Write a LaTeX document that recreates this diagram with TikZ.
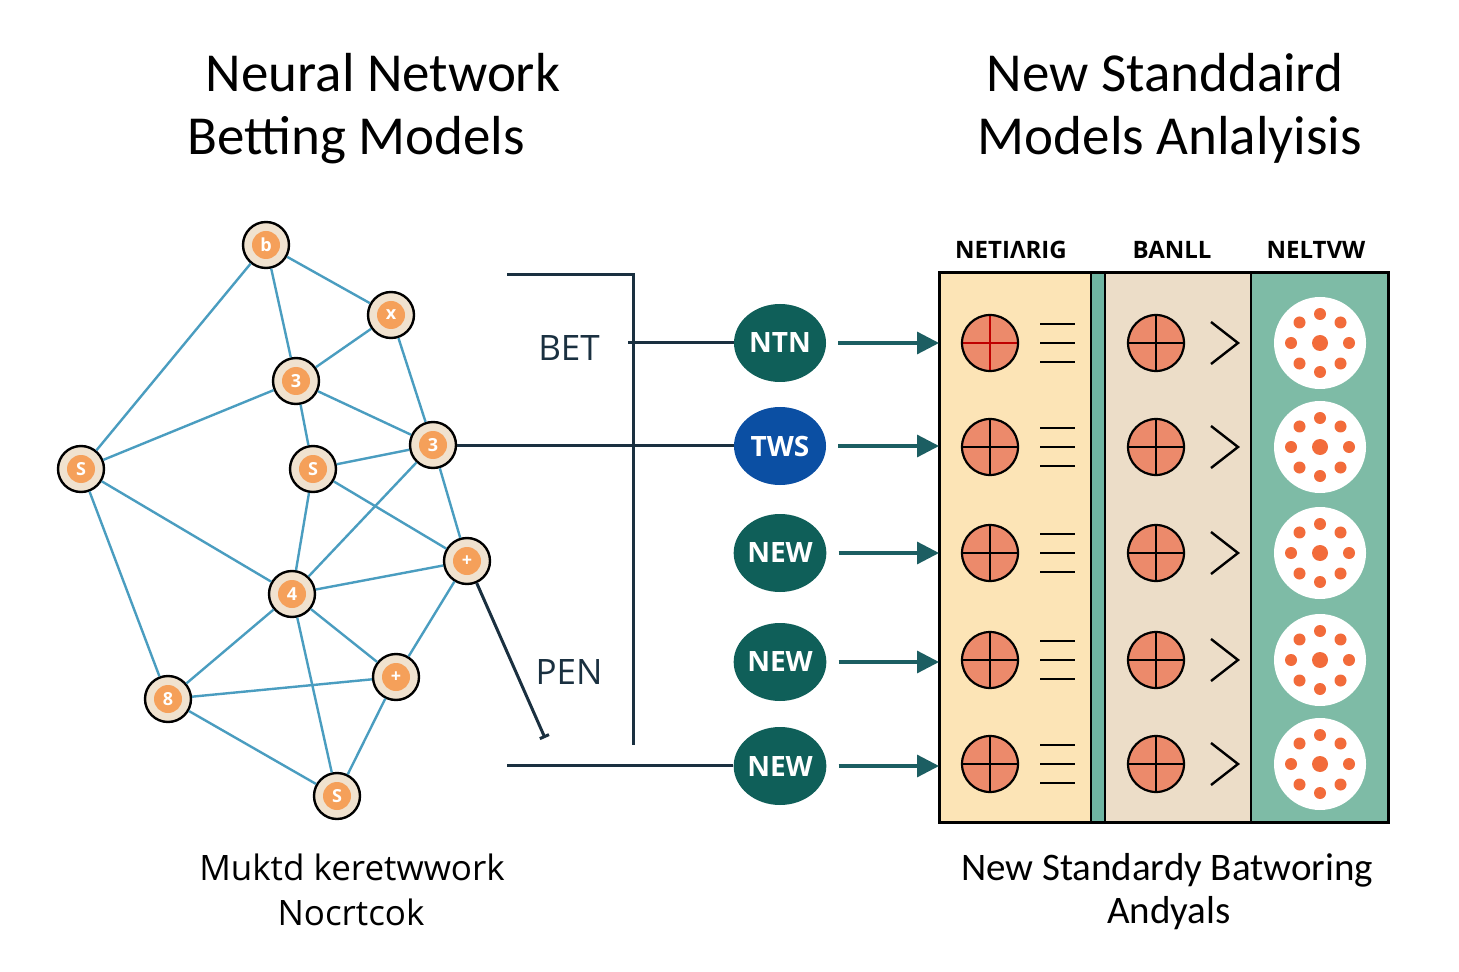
\documentclass[tikz,border=0pt]{standalone}
\usepackage{fontspec}
\setmainfont{Carlito}
\newfontfamily\osans{Open Sans}
\usetikzlibrary{shapes.geometric,arrows.meta}

\definecolor{nbeige}{HTML}{F0E2CF}
\definecolor{norange}{HTML}{F5A05A}
\definecolor{nedge}{HTML}{4A9DC0}
\definecolor{wirec}{HTML}{1A3040}
\definecolor{tealn}{HTML}{0F5F59}
\definecolor{bluen}{HTML}{0B4FA3}
\definecolor{flowc}{HTML}{1C5E62}
\definecolor{colA}{HTML}{FCE4B6}
\definecolor{colS}{HTML}{6FB5A2}
\definecolor{colB}{HTML}{ECDDC8}
\definecolor{colC}{HTML}{7EBBA6}
\definecolor{salmon}{HTML}{EC8A6B}
\definecolor{dotc}{HTML}{F26B3A}

\tikzset{
  neuron/.style={circle,draw=black,fill=nbeige,line width=1.2pt,minimum size=23pt,inner sep=0pt,
    text=white,font=\osans\bfseries\fontsize{9}{9}\selectfont,
    path picture={\fill[norange] (path picture bounding box.center) circle (7pt);}},
  edge/.style={nedge,line width=1.2pt},
  wire/.style={wirec,line width=1.5pt},
  tag/.style={ellipse,fill=#1,minimum width=46pt,minimum height=39pt,inner sep=0pt,
    text=white,font=\osans\bfseries\fontsize{14}{14}\selectfont},
  flow/.style={flowc,line width=1.6pt,-{Triangle[length=11pt,width=11pt]},shorten <=6pt},
  colbox/.style={draw=black,line width=1pt,minimum height=274.5pt,inner sep=0pt},
  ball/.style={circle,draw=black,fill=salmon,line width=1.1pt,minimum size=28pt,inner sep=0pt,
    path picture={\draw[line width=1pt,#1]
      (path picture bounding box.north) -- (path picture bounding box.south)
      (path picture bounding box.west) -- (path picture bounding box.east);}},
  ball/.default=black,
  dish/.style={circle,fill=white,minimum size=46pt,inner sep=0pt},
  head/.style={font=\osans\bfseries\fontsize{12}{12}\selectfont},
  title/.style={font=\fontsize{27.5}{30}\selectfont},
}

\begin{document}
\begin{tikzpicture}[x=0.5pt,y=-0.5pt]
\useasboundingbox[fill=white] (0,0) rectangle (1459,972);

% titles
\node[title] (t1) at (383,73) {Neural Network};
\node[title] (t2) at (356,140) {Betting Models};
\node[title] (t3) at (1165,73) {New Standdaird};
\node[title] (t4) at (1170,140) {Models Anlalyisis};

% network
\node[neuron] (n1) at (266,245) {b};
\node[neuron] (n2) at (391,315) {x};
\node[neuron] (n3) at (296,381) {3};
\node[neuron] (n4) at (81,469) {S};
\node[neuron] (n5) at (313,469) {S};
\node[neuron] (n6) at (433,445) {3};
\node[neuron] (n7) at (467,561) {+};
\node[neuron] (n8) at (292,594) {4};
\node[neuron] (n9) at (396,677) {+};
\node[neuron] (n10) at (168,699) {8};
\node[neuron] (n11) at (337,796) {S};
\foreach \a/\b in {n1/n4,n1/n3,n1/n2,n2/n3,n2/n6,n3/n4,n3/n6,n3/n5,n5/n6,n5/n7,n5/n8,
  n6/n8,n6/n7,n8/n7,n4/n8,n4/n10,n8/n10,n8/n9,n8/n11,n7/n9,n10/n9,n10/n11,n9/n11}
  \draw[edge] (\a) -- (\b);

% middle labels and wires
\node[tag=tealn] (e1) at (780,343) {NTN};
\node[tag=bluen] (e2) at (780,446) {TWS};
\node[tag=tealn] (e3) at (780,553) {NEW};
\node[tag=tealn] (e4) at (780,662) {NEW};
\node[tag=tealn] (e5) at (780,766) {NEW};
\node[font=\osans\fontsize{17.5}{18}\selectfont,text=wirec] (bet) at (569,348) {BET};
\node[font=\osans\fontsize{17.5}{18}\selectfont,text=wirec] (pen) at (569,672) {PEN};
\coordinate (wtop) at (507,275);
\coordinate (wcorner) at (633,275);
\coordinate (wbot) at (633,745);
\coordinate (wbet) at (628,343);
\coordinate (wpen) at (545,738);
\coordinate (wlow) at (507,765);
\draw[wire] (wtop) -- (wcorner) -- (wbot);
\draw[wire] (wbet) -- (e1);
\draw[wire] (n6) -- (n6 -| e2.west);
\draw[wire,-{Bar[width=5pt]}] (n7) -- (wpen);
\draw[wire] (wlow) -- (wlow -| e5.west);

% panel
\node[colbox,fill=colA,minimum width=75.5pt] (c1) at (1015.5,547.5) {};
\node[colbox,fill=colS,minimum width=7pt] (cs) at (1098,547.5) {};
\node[colbox,fill=colB,minimum width=73pt] (c2) at (1178,547.5) {};
\node[colbox,fill=colC,minimum width=68.5pt] (c3) at (1319.5,547.5) {};
\draw[line width=1.3pt] (c1.north west) rectangle (c3.south east);
\node[head] (h1) at (1011,250) {NETIΛRIG};
\node[head] (h2) at (1172,250) {BANLL};
\node[head] (h3) at (1316,250) {NELTVW};

\foreach \y [count=\i] in {343,447,553,660,764}{
  \draw[flow] (e\i.east) -- (e\i -| c1.west);
  \ifnum\i=1 \node[ball=red!75!black] (a\i) at (990,\y) {};
  \else \node[ball] (a\i) at (990,\y) {}; \fi
  \foreach \d in {-19,0,19}
    \draw[line width=1.2pt] (1040,\y+\d) -- (1075,\y+\d);
  \node[ball] (b\i) at (1156,\y) {};
  \draw[line width=1.2pt] (1211,\y-21) -- (1238,\y) -- (1211,\y+21);
  \node[dish] (d\i) at (1320,\y) {};
  \fill[dotc] (d\i) circle (4pt);
  \foreach \ang in {0,45,...,315}
    \fill[dotc] ([shift={(\ang:29)}]d\i.center) circle (3pt);
}

% bottom captions
\node[font=\osans\fontsize{17.5}{20}\selectfont] (l1) at (352,867) {Muktd keretwwork};
\node[font=\osans\fontsize{17.5}{20}\selectfont] (l2) at (351,912) {Nocrtcok};
\node[font=\fontsize{19.5}{22}\selectfont] (r1) at (1167,870) {New Standardy Batworing};
\node[font=\fontsize{19.5}{22}\selectfont] (r2) at (1169,913) {Andyals};
\end{tikzpicture}
\end{document}
